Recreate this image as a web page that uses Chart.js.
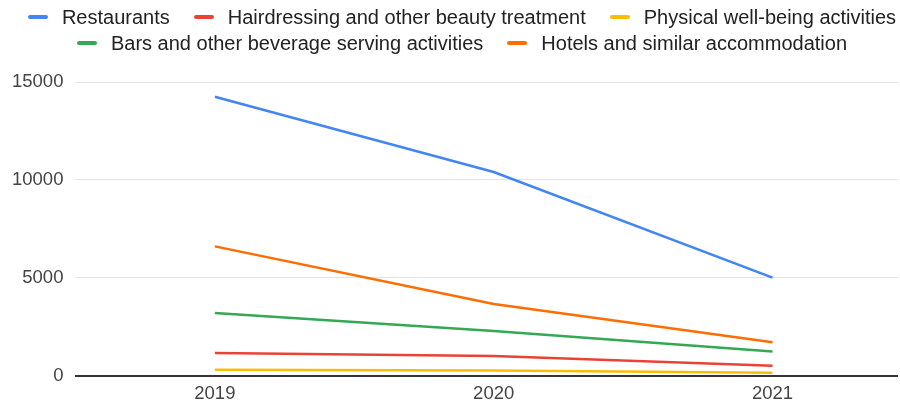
<!DOCTYPE html>
<html lang="en">
<head>
  <meta charset="UTF-8">
  <title>Employment by activity</title>
  <script src="https://cdn.jsdelivr.net/npm/chart.js"></script>
</head>
<style>
  body {
    margin: 0;
    padding: 0;
    background: #fff;
    font-family: "Liberation Sans", Arial, sans-serif;
  }

  .wrap {
    position: relative;
    width: 900px;
    height: 404px;
    overflow: hidden;
  }

  /* HTML legend sits over the top of the canvas */
  .legend {
    position: absolute;
    top: 4px;
    left: 24px;
    right: 0;
  }

  .legend .row {
    display: flex;
    justify-content: center;
    height: 26px;
    line-height: 26px;
  }

  .legend .item {
    display: flex;
    align-items: center;
    margin: 0 12px;
    font-size: 20px;
    color: #222;
    white-space: nowrap;
  }

  .legend .mark {
    width: 20px;
    height: 4px;
    border-radius: 2px;
    margin-right: 14px;
  }
</style>

<body>
<div class="wrap">
  <div class="legend" id="legend"></div>
  <canvas id="chart" width="900" height="404"></canvas>
</div>

<script>
  const years = [2019, 2020, 2021];
  const seriesNames = [
    'Restaurants',
    'Hairdressing and other beauty treatment',
    'Physical well-being activities',
    'Bars and other beverage serving activities',
    'Hotels and similar accommodation'
  ];
  const restaurants = [14250, 10400, 5000];
  const hairdressing = [1150, 1000, 500];
  const physical = [290, 250, 140];
  const bars = [3200, 2270, 1230];
  const hotels = [6600, 3650, 1700];
  const yTicks = [0, 5000, 10000, 15000];

  const colors = ['#4285F4', '#EA4335', '#FBBC04', '#34A853', '#FF6D01'];
  const values = [restaurants, hairdressing, physical, bars, hotels];

  const datasets = seriesNames.map((name, i) => ({
    label: name,
    data: years.map((y, j) => ({ x: y, y: values[i][j] })),
    borderColor: colors[i],
    backgroundColor: colors[i],
    borderWidth: 2.5,
    pointRadius: 0,
    tension: 0
  }));

  const tickFont = { family: '"Liberation Sans", Arial, sans-serif', size: 18.5 };

  const ctx = document.getElementById('chart').getContext('2d');
  const chart = new Chart(ctx, {
    type: 'line',
    data: { datasets: datasets },
    options: {
      responsive: false,
      animation: false,
      layout: { padding: { top: 82, left: 0, right: 2, bottom: -8 } },
      plugins: {
        legend: { display: false },
        tooltip: { enabled: false }
      },
      scales: {
        x: {
          type: 'linear',
          min: 2018.5,
          max: 2021.45,
          afterBuildTicks: axis => { axis.ticks = years.map(v => ({ value: v })); },
          grid: { display: false, drawTicks: false },
          border: { display: false },
          ticks: {
            color: '#444',
            font: { family: tickFont.family, size: tickFont.size, lineHeight: 1 },
            padding: 9,
            callback: v => String(v)
          }
        },
        y: {
          min: 0,
          max: 15000,
          afterBuildTicks: axis => { axis.ticks = yTicks.map(v => ({ value: v })); },
          border: { display: false },
          grid: {
            drawTicks: false,
            color: c => c.tick.value === 0 ? '#333' : '#e3e3e3',
            lineWidth: c => c.tick.value === 0 ? 2 : 1
          },
          ticks: { color: '#444', font: tickFont, padding: 12, callback: v => String(v) }
        }
      }
    }
  });

  // build the legend from the datasets, 3 items on the first row, 2 on the second
  function buildLegend(chart) {
    const box = document.getElementById('legend');
    const rows = [chart.data.datasets.slice(0, 3), chart.data.datasets.slice(3)];
    rows.forEach(list => {
      const row = document.createElement('div');
      row.className = 'row';
      list.forEach(ds => {
        const item = document.createElement('div');
        item.className = 'item';
        const mark = document.createElement('span');
        mark.className = 'mark';
        mark.style.background = ds.borderColor;
        item.appendChild(mark);
        item.appendChild(document.createTextNode(ds.label));
        row.appendChild(item);
      });
      box.appendChild(row);
    });
  }

  buildLegend(chart);
</script>

</body>
</html>
